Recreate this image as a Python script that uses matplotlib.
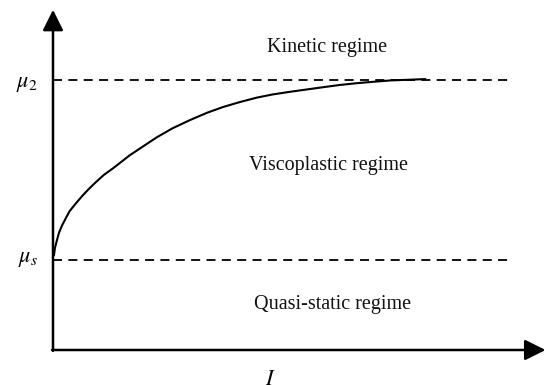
import matplotlib
matplotlib.use('Agg')

import matplotlib.pyplot as plt

plt.rcParams['font.family'] = ['Liberation Serif', 'DejaVu Serif']
plt.rcParams['mathtext.fontset'] = 'stix'

# friction coefficient mu(I)
mu_s = 0.200
mu_2 = 0.600
I_vals = [0.002, 0.004, 0.008, 0.012, 0.018, 0.026, 0.034, 0.045, 0.059, 0.071,
          0.085, 0.103, 0.122, 0.156, 0.211, 0.243, 0.278, 0.312, 0.345, 0.379,
          0.414, 0.446, 0.482, 0.515, 0.548, 0.582, 0.617, 0.649, 0.684, 0.755]
mu_vals = [0.211, 0.227, 0.244, 0.260, 0.276, 0.293, 0.309, 0.324, 0.342, 0.356,
           0.371, 0.389, 0.404, 0.433, 0.473, 0.493, 0.511, 0.527, 0.540, 0.551,
           0.561, 0.568, 0.574, 0.579, 0.584, 0.589, 0.593, 0.596, 0.599, 0.602]
regimes = ["Kinetic regime", "Viscoplastic regime", "Quasi-static regime"]
regime_pos = [(0.556, 0.673), (0.558, 0.411), (0.568, 0.100)]

fig = plt.figure(figsize=(5.46, 3.85), dpi=100)
ax = fig.add_axes([0, 0, 1, 1])
ax.set_xlim(-0.1075, 1.0)
ax.set_ylim(-0.0778, 0.7778)
ax.axis('off')

# axes with arrows
arr = dict(arrowstyle='-|>,head_length=0.9,head_width=0.45', lw=1.8, color='black',
           shrinkA=0, shrinkB=0, mutation_scale=14)
ax.annotate('', xy=(0.999, 0), xytext=(-0.002, 0), arrowprops=arr)
ax.annotate('', xy=(0, 0.756), xytext=(0, -0.002), arrowprops=arr)

# regime boundaries
for m in [mu_s, mu_2]:
    ax.plot([0, 0.923], [m, m], color='black', lw=1.3, dashes=(5, 3.5))

ax.plot(I_vals, mu_vals, color='black', lw=1.5, solid_joinstyle='round')

ax.text(-0.03, mu_s, r'$\mu_s$', ha='right', va='center', fontsize=16)
ax.text(-0.03, mu_2 - 0.01, r'$\mu_2$', ha='right', va='center', fontsize=16)
ax.text(0.44, -0.046, r'$I$', ha='center', va='top', fontsize=16)

for name, (x, y) in zip(regimes, regime_pos):
    ax.text(x, y, name, ha='center', va='center', fontsize=14.5, color='#111111')

fig.savefig('out.png', dpi=100)
